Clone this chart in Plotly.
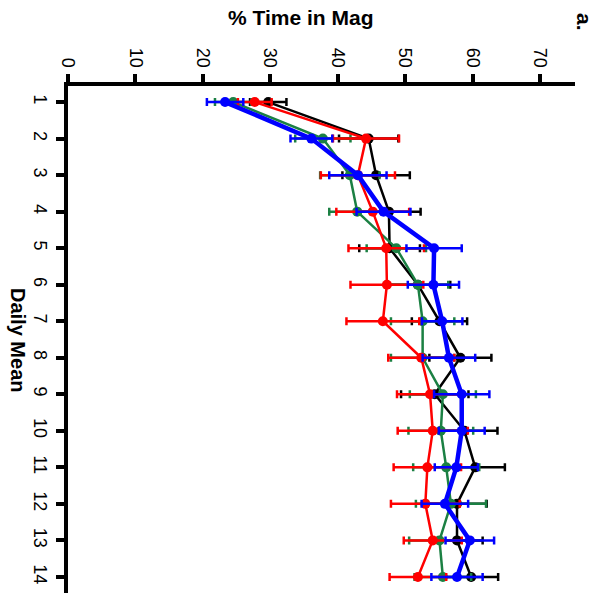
import plotly.graph_objects as go

days = list(range(1, 15))
day_labels = [str(d) for d in days]
x_ticks = [0, 10, 20, 30, 40, 50, 60, 70]

black_mean = [29.7, 44.6, 45.7, 47.6, 47.7, 51.9, 55.1, 58.2, 54.4, 58.8, 60.4, 57.7, 57.7, 59.8]
black_err = [2.7, 4.4, 5.0, 4.7, 4.5, 4.8, 4.1, 4.6, 5.0, 4.9, 4.4, 4.4, 3.8, 4.0]
green_mean = [24.5, 37.8, 41.8, 42.9, 48.7, 51.9, 52.6, 52.6, 55.6, 55.3, 56.1, 56.8, 55.1, 55.6]
green_err = [2.7, 4.1, 4.4, 4.15, 4.4, 4.5, 4.7, 4.7, 4.9, 4.8, 4.9, 5.2, 4.5, 4.2]
red_mean = [27.7, 44.2, 43.0, 45.2, 47.2, 47.3, 46.7, 52.4, 53.7, 54.1, 53.3, 53.0, 54.1, 51.9]
red_err = [2.5, 4.9, 5.5, 5.4, 5.6, 5.4, 5.4, 4.9, 4.9, 5.2, 5.0, 5.1, 4.3, 4.2]
blue_mean = [23.3, 36.1, 43.0, 46.8, 54.3, 54.2, 55.5, 56.5, 58.4, 58.4, 57.6, 55.9, 59.6, 57.7]
blue_err = [2.7, 3.1, 4.25, 4.0, 4.1, 3.8, 3.0, 3.9, 4.1, 3.4, 3.2, 3.45, 3.6, 3.8]

series = [
    ("Black", black_mean, black_err, "#000000", 2.5),
    ("Green", green_mean, green_err, "#1b8043", 2.5),
    ("Red", red_mean, red_err, "#ff0000", 2.5),
    ("Blue", blue_mean, blue_err, "#0000ff", 4.5),
]

fig = go.Figure()
for name, m, e, c, lw in series:
    fig.add_trace(go.Scatter(
        x=m, y=days, mode="lines+markers", name=name,
        line=dict(color=c, width=lw),
        marker=dict(color=c, size=10, symbol="circle"),
        error_x=dict(type="data", array=e, visible=True, color=c, thickness=2.5, width=4),
        showlegend=False,
    ))

FONT = "Liberation Sans, Arial, sans-serif"
L, R, T, B = 68, 25, 86, 2
pw, ph = 600 - L - R, 595 - T - B


def px(xp):
    return (xp - L) / pw


def py(yp):
    return (595 - B - yp) / ph


fig.update_layout(
    width=600, height=595,
    margin=dict(l=L, r=R, t=T, b=B),
    paper_bgcolor="white", plot_bgcolor="white",
    font=dict(family=FONT, color="black"),
    xaxis=dict(
        side="top", range=[0, 75.2], tickvals=x_ticks, ticktext=[str(v) for v in x_ticks],
        tickangle=90, ticks="outside", ticklen=8, tickwidth=4, tickcolor="black",
        showline=True, linewidth=4, linecolor="black", showgrid=False, zeroline=False,
        tickfont=dict(size=18, family=FONT),
    ),
    yaxis=dict(
        range=[14.44, 0.56], tickvals=days, ticktext=day_labels,
        tickangle=90, ticks="outside", ticklen=8, tickwidth=4, tickcolor="black",
        showline=True, linewidth=4, linecolor="black", showgrid=False, zeroline=False,
        tickfont=dict(size=18, family=FONT),
    ),
    annotations=[
        dict(text="<b>% Time in Mag</b>", x=px(300), y=py(18), xref="paper", yref="paper",
             xanchor="center", yanchor="middle",
             showarrow=False, font=dict(size=21, family=FONT)),
        dict(text="<b>Daily Mean</b>", x=px(18), y=py(340), xref="paper", yref="paper",
             xanchor="center", yanchor="middle",
             showarrow=False, textangle=90, font=dict(size=20, family=FONT)),
        dict(text="<b>a.</b>", x=px(585), y=py(22), xref="paper", yref="paper",
             xanchor="center", yanchor="middle",
             showarrow=False, textangle=90, font=dict(size=21, family=FONT)),
    ],
)

fig.write_html("out.html")
